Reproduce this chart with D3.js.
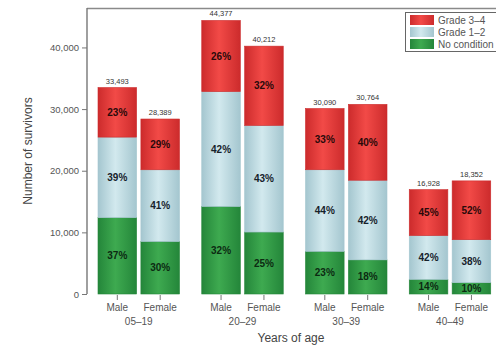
<!DOCTYPE html>
<html>
<head>
<meta charset="utf-8">
<script src="https://cdn.jsdelivr.net/npm/d3@7"></script>
<style>
  body { margin: 0; background: #fff; }
  svg { display: block; font-family: "Liberation Sans", Arial, sans-serif; }
</style>
</head>
<body>
<script>
// data
const ageGroups = ['05\u201319', '20\u201329', '30\u201339', '40\u201349']
const sexes = ['Male', 'Female']
const totals = [33493, 28389, 44377, 40212, 30090, 30764, 16928, 18352]
// percentages per bar: no condition, grade 1-2, grade 3-4
const pctNone = [37, 30, 32, 25, 23, 18, 14, 10]
const pctG12 = [39, 41, 42, 43, 44, 42, 42, 38]
const pctG34 = [23, 29, 26, 32, 33, 40, 45, 52]
const yTicks = [0, 10000, 20000, 30000, 40000]
const legendLabels = ['Grade 3\u20134', 'Grade 1\u20132', 'No condition']

const width = 496, height = 345

const svg = d3.select('body').append('svg')
  .attr('width', width)
  .attr('height', height)

const defs = svg.append('defs')
const palette = {
  g34: ['#cc2b2c', '#f24a47'],
  g12: ['#a4c6cf', '#d2e9ee'],
  none: ['#24863a', '#3eaa50']
}
Object.entries(palette).forEach(([k, c]) => {
  const g = defs.append('linearGradient').attr('id', 'grad-' + k)
    .attr('x1', '0%').attr('x2', '100%').attr('y1', '0%').attr('y2', '0%')
  g.append('stop').attr('offset', '0%').attr('stop-color', c[0])
  g.append('stop').attr('offset', '45%').attr('stop-color', c[1])
  g.append('stop').attr('offset', '100%').attr('stop-color', c[0])
})

const y = d3.scaleLinear().domain([0, 46400]).range([294, 8])
const xGroup = d3.scaleBand().domain(ageGroups).range([87, 502]).padding(0)
const xSex = d3.scaleBand().domain(sexes).range([11, 92.5]).paddingInner(0.1)

const bars = []
ageGroups.forEach((g, gi) => {
  sexes.forEach((s, si) => {
    const i = gi * 2 + si
    const t = totals[i]
    const v0 = t * pctNone[i] / 100
    const v1 = t * pctG12[i] / 100
    bars.push({
      group: g, sex: s, total: t,
      segs: [
        { key: 'none', y0: 0, y1: v0, pct: pctNone[i] },
        { key: 'g12', y0: v0, y1: v0 + v1, pct: pctG12[i] },
        { key: 'g34', y0: v0 + v1, y1: t, pct: pctG34[i] }
      ]
    })
  })
})

const barX = d => xGroup(d.group) + xSex(d.sex)
const bw = xSex.bandwidth()

// frame: top line and y axis
svg.append('line')
  .attr('x1', 87).attr('x2', width).attr('y1', 8.5).attr('y2', 8.5)
  .attr('stroke', '#8a8a8a').attr('stroke-width', 1.6)

const yAxis = svg.append('g')
  .attr('transform', 'translate(87,0)')
  .call(d3.axisLeft(y).tickValues(yTicks).tickSize(5).tickPadding(3)
    .tickFormat(d3.format(',')))
yAxis.select('.domain').attr('stroke', '#777').attr('stroke-width', 1.4)
  .attr('d', `M0,${y(0)}V8`)
yAxis.selectAll('.tick line').attr('stroke', '#777')
yAxis.selectAll('.tick text').attr('fill', '#555').style('font-size', '9.5px')

const bar = svg.append('g').selectAll('g').data(bars).join('g')

bar.selectAll('rect').data(d => d.segs.map(s => ({ ...s, x: barX(d) })))
  .join('rect')
  .attr('x', d => d.x)
  .attr('width', bw)
  .attr('y', d => y(d.y1))
  .attr('height', d => y(d.y0) - y(d.y1))
  .attr('fill', d => `url(#grad-${d.key})`)
  .attr('stroke', d => palette[d.key][0])
  .attr('stroke-width', 0.6)

bar.selectAll('text.pct').data(d => d.segs.map(s => ({ ...s, x: barX(d) })))
  .join('text')
  .attr('class', 'pct')
  .attr('x', d => d.x + bw / 2)
  .attr('y', d => (y(d.y0) + y(d.y1)) / 2 + 3.5)
  .attr('text-anchor', 'middle')
  .attr('fill', d => d.key === 'none' ? '#0c2a12' : (d.key === 'g12' ? '#16222b' : '#2a0a0a'))
  .style('font-size', '10px')
  .style('font-weight', 'bold')
  .text(d => d.pct + '%')

bar.append('text')
  .attr('x', d => barX(d) + bw / 2)
  .attr('y', d => y(d.total) - 4)
  .attr('text-anchor', 'middle')
  .attr('fill', '#333')
  .style('font-size', '7.5px')
  .text(d => d3.format(',')(d.total))

// x ticks and labels
const xl = svg.append('g')
bars.forEach(d => {
  const cx = barX(d) + bw / 2
  xl.append('line').attr('x1', cx).attr('x2', cx).attr('y1', 295).attr('y2', 300)
    .attr('stroke', '#777')
  xl.append('text').attr('x', cx).attr('y', 311).attr('text-anchor', 'middle')
    .attr('fill', '#555').style('font-size', '10px').text(d.sex)
})
ageGroups.forEach(g => {
  xl.append('text').attr('x', xGroup(g) + (xSex('Male') + xSex('Female') + bw) / 2)
    .attr('y', 325).attr('text-anchor', 'middle')
    .attr('fill', '#555').style('font-size', '10px').text(g)
})

svg.append('text')
  .attr('x', 291).attr('y', 342)
  .attr('text-anchor', 'middle')
  .attr('fill', '#444').style('font-size', '12px')
  .text('Years of age')

svg.append('text')
  .attr('transform', `translate(32,${(8 + 294) / 2}) rotate(-90)`)
  .attr('text-anchor', 'middle')
  .attr('fill', '#444').style('font-size', '12px')
  .text('Number of survivors')

// legend
const lg = svg.append('g').attr('transform', 'translate(405,12)')
lg.append('rect').attr('x', 0.5).attr('y', 0.5).attr('width', 95).attr('height', 39)
  .attr('fill', '#fff').attr('stroke', '#666').attr('stroke-width', 1)
const lkeys = ['g34', 'g12', 'none']
lkeys.forEach((k, i) => {
  lg.append('rect').attr('x', 5).attr('y', 3 + i * 12).attr('width', 24).attr('height', 10)
    .attr('fill', `url(#grad-${k})`)
  lg.append('text').attr('x', 33).attr('y', 12 + i * 12)
    .attr('fill', '#555').style('font-size', '10px').text(legendLabels[i])
})
</script>
</body>
</html>
